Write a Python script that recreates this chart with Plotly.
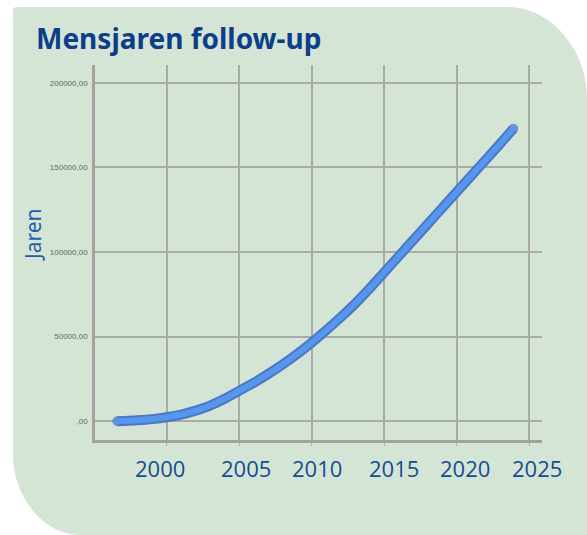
import plotly.graph_objects as go

# ---------------- data ----------------
years = [1996.6, 1997, 1998, 1999, 2000, 2001, 2002, 2003, 2004, 2005, 2006, 2007,
         2008, 2009, 2010, 2011, 2012, 2013, 2014, 2015, 2016, 2017, 2018, 2019,
         2020, 2021, 2022, 2023, 2023.9]
jaren = [0, 200, 600, 1300, 2400, 4000, 6300, 9300, 13300, 18000, 22700, 27900,
         33600, 39800, 46500, 53800, 61400, 69500, 78500, 88000, 97500, 107000,
         116500, 126000, 135500, 145000, 154500, 164000, 172800]

x_ticks = [2000, 2005, 2010, 2015, 2020, 2025]
x_tick_labels = ["2000", "2005", "2010", "2015", "2020", "2025"]
y_ticks = [0, 50000, 100000, 150000, 200000]
y_tick_labels = [",00", "50000,00", "100000,00", "150000,00", "200000,00"]

title_text = "Mensjaren follow-up"
y_title = "Jaren"

# ---------------- layout geometry (pixels) ----------------
W, H = 587, 535
L, R, T, B = 95, 45, 65, 95
PW, PH = W - L - R, H - T - B
# visual offsets of the x labels relative to their grid line (years)
label_shift = [-0.46, 0.46, 0.37, 0.67, 0.57, 0.51]

def px(x):
    return (x - L) / PW

def py(y):
    return (H - B - y) / PH

GREEN = "#d5e5d5"

# rounded background panel
bg_path = (
    f"M {px(13)},{py(11)} Q {px(13)},{py(7)} {px(17)},{py(7)} "
    f"L {px(508)},{py(7)} "
    f"C {px(551)},{py(7)} {px(587)},{py(50)} {px(587)},{py(97)} "
    f"L {px(600)},{py(97)} L {px(600)},{py(545)} L {px(80)},{py(545)} L {px(80)},{py(535)} "
    f"C {px(43)},{py(535)} {px(13)},{py(496)} {px(13)},{py(455)} Z"
)

fig = go.Figure()

end_caps = [1] + [0] * (len(years) - 2) + [1]

# darker outline
fig.add_trace(go.Scatter(
    x=years, y=jaren, mode="lines+markers",
    line=dict(color="rgb(76,118,198)", width=10, shape="spline", smoothing=0.8),
    marker=dict(size=[10 * c for c in end_caps], color="rgb(76,118,198)",
                line=dict(width=0)),
    hoverinfo="skip", showlegend=False,
))
# lighter core
fig.add_trace(go.Scatter(
    x=years, y=jaren, mode="lines+markers",
    line=dict(color="rgb(86,150,236)", width=6, shape="spline", smoothing=0.8),
    marker=dict(size=[6 * c for c in end_caps], color="rgb(86,150,236)",
                line=dict(width=0)),
    showlegend=False,
))

annotations = [
    dict(text=f"<b>{title_text}</b>", x=px(34), y=py(38), xref="paper", yref="paper",
         xanchor="left", yanchor="middle", showarrow=False,
         font=dict(family="Noto Sans", size=28, color="rgb(12,62,138)")),
    dict(text=y_title, x=px(33), y=py(234), xref="paper", yref="paper",
         xanchor="center", yanchor="middle", textangle=-90, showarrow=False,
         font=dict(family="Noto Sans", size=21, color="rgb(35,92,168)")),
]
for v, lab, s in zip(x_ticks, x_tick_labels, label_shift):
    annotations.append(dict(
        text=lab, x=v + s, y=py(468), xref="x", yref="paper",
        xanchor="center", yanchor="middle", showarrow=False,
        font=dict(family="Open Sans", size=22, color="rgb(20,76,146)")))

fig.update_layout(
    width=W, height=H,
    margin=dict(l=L, r=R, t=T, b=B, pad=0),
    paper_bgcolor="white",
    plot_bgcolor="rgba(0,0,0,0)",
    shapes=[dict(type="path", path=bg_path, xref="paper", yref="paper",
                 fillcolor=GREEN, line=dict(width=0), layer="below")],
    annotations=annotations,
    xaxis=dict(
        range=[1995.06, 2025.88], tickvals=x_ticks, ticktext=[""] * len(x_ticks),
        showgrid=True, gridcolor="#aaaaaa", gridwidth=1.8,
        showline=True, linecolor="#a2a2a2", linewidth=2.5,
        ticks="outside", ticklen=3, tickcolor="#aaaaaa", tickwidth=1,
        zeroline=False, fixedrange=True,
    ),
    yaxis=dict(
        range=[-11045, 210455], tickvals=y_ticks, ticktext=y_tick_labels,
        showgrid=True, gridcolor="#aaaaaa", gridwidth=1.8,
        showline=True, linecolor="#a2a2a2", linewidth=2.5,
        ticks="", ticklabelstandoff=3,
        tickfont=dict(family="Liberation Sans", size=8, color="#666666"),
        zeroline=False, fixedrange=True,
    ),
)

fig.write_html("out.html", config={"displayModeBar": False},
               post_script="document.body.style.margin='0px';")
